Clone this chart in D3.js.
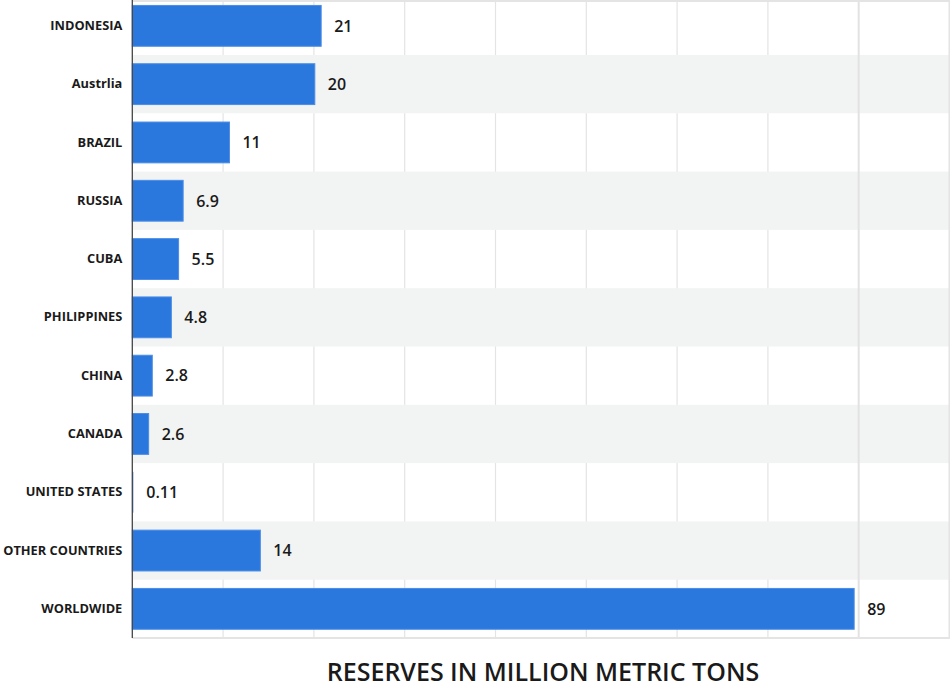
<!DOCTYPE html>
<html>
<head>
<meta charset="utf-8">
<script src="https://cdn.jsdelivr.net/npm/d3@7/dist/d3.min.js"></script>
<style>
  html, body { margin: 0; padding: 0; background: #ffffff; }
  svg { display: block; }
</style>
</head>
<body>
<svg id="chart" width="950" height="689"></svg>
<script>
// ---- data ----
const categories = ["INDONESIA", "Austrlia", "BRAZIL", "RUSSIA", "CUBA", "PHILIPPINES",
                    "CHINA", "CANADA", "UNITED STATES", "OTHER COUNTRIES", "WORLDWIDE"];
// bar lengths as drawn in the reference (million metric tons)
const barValues = [20.8, 20.1, 10.7, 5.6, 5.1, 4.3, 2.2, 1.8, 0.11, 14.1, 79.5];
// value labels printed next to the bars
const valueLabels = ["21", "20", "11", "6.9", "5.5", "4.8", "2.8", "2.6", "0.11", "14", "89"];
const xTicks = [10, 20, 30, 40, 50, 60, 70, 80, 90];
const axisTitle = "RESERVES IN MILLION METRIC TONS";

// ---- layout ----
const svg = d3.select("#chart");
const plot = { left: 132.3, right: 949.5, top: 1, bottom: 638 };

const x = d3.scaleLinear().domain([0, 90]).range([plot.left, plot.right]);
const y = d3.scaleBand().domain(categories).range([-3.3, 638]).padding(0);
const barPad = 0.15; // fraction of band left empty above and below bar

// plot background
svg.append("rect")
  .attr("x", plot.left).attr("y", plot.top)
  .attr("width", plot.right - plot.left).attr("height", plot.bottom - plot.top)
  .attr("fill", "#ffffff");

// gridlines (under bands)
svg.append("g").selectAll("line")
  .data(xTicks.filter(t => t !== 80 && t !== 90))
  .join("line")
  .attr("x1", d => x(d)).attr("x2", d => x(d))
  .attr("y1", plot.top).attr("y2", plot.bottom)
  .attr("stroke", "#e4e4e4").attr("stroke-width", 1.2);

// zebra bands
const bandData = categories.filter((c, i) => i % 2 === 1);
svg.append("g").selectAll("rect")
  .data(bandData)
  .join("rect")
  .attr("x", plot.left).attr("y", d => y(d))
  .attr("width", plot.right - plot.left).attr("height", y.bandwidth())
  .attr("fill", "#f2f3f3");

// stronger gridline drawn above the bands
svg.append("g").selectAll("line")
  .data(xTicks.filter(t => t === 80))
  .join("line")
  .attr("x1", d => x(d)).attr("x2", d => x(d))
  .attr("y1", plot.top).attr("y2", plot.bottom)
  .attr("stroke", "#e2e2e2").attr("stroke-width", 2);

// plot border (top, right, bottom)
svg.append("path")
  .attr("d", `M${plot.left},${plot.top}H${plot.right}V${plot.bottom}H${plot.left}`)
  .attr("fill", "none").attr("stroke", "#e4e4e4").attr("stroke-width", 2);

// bars
svg.append("g").selectAll("rect")
  .data(categories)
  .join("rect")
  .attr("x", x(0))
  .attr("y", d => y(d) + y.bandwidth() * barPad)
  .attr("width", (d, i) => Math.max(0, x(barValues[i]) - x(0)))
  .attr("height", y.bandwidth() * (1 - 2 * barPad))
  .attr("fill", "#2a77dd")
  .attr("stroke", (d, i) => barValues[i] > 0.5 ? "#4a8de6" : "none")
  .attr("stroke-width", 1);

// value labels
svg.append("g").selectAll("text")
  .data(categories)
  .join("text")
  .attr("x", (d, i) => x(barValues[i]) + 13)
  .attr("y", d => y(d) + y.bandwidth() / 2)
  .attr("dy", "0.36em")
  .attr("font-family", "'Open Sans', sans-serif")
  .attr("font-weight", 600)
  .attr("font-size", 16)
  .attr("fill", "#1a1a1a")
  .text((d, i) => valueLabels[i]);

// y axis (category labels + line)
const yAxis = d3.axisLeft(y).tickSize(0).tickPadding(10);
const gy = svg.append("g").attr("transform", `translate(${plot.left},0)`).call(yAxis);
gy.select(".domain").remove();
gy.selectAll("text")
  .attr("font-family", "'Open Sans', sans-serif")
  .attr("font-weight", 700)
  .attr("font-size", 12.8)
  .attr("fill", "#1a1a1a");

svg.append("line")
  .attr("x1", plot.left).attr("x2", plot.left)
  .attr("y1", 0).attr("y2", plot.bottom)
  .attr("stroke", "#444").attr("stroke-width", 1.3);

// x axis title
svg.append("text")
  .attr("x", 543)
  .attr("y", 681)
  .attr("text-anchor", "middle")
  .attr("font-family", "'Open Sans', sans-serif")
  .attr("font-weight", 600)
  .attr("font-size", 25)
  .attr("fill", "#1a1a1a")
  .text(axisTitle);
</script>
</body>
</html>
